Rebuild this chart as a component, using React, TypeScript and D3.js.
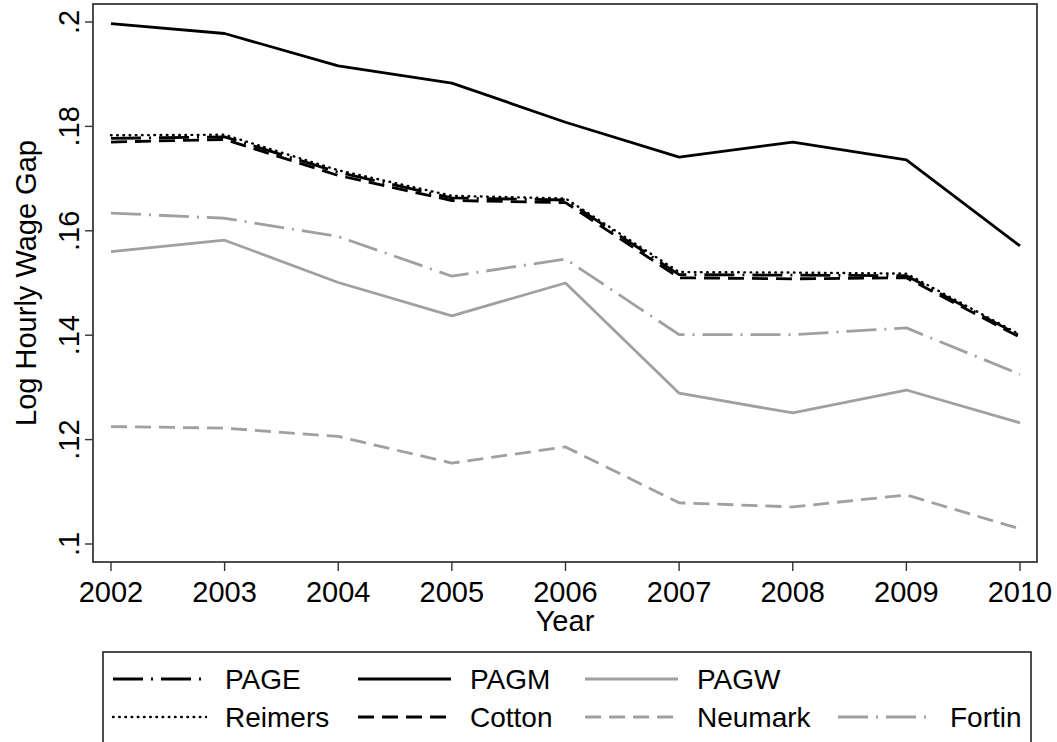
import React from "react";
import * as d3 from "d3";

// ---------- data ----------
const years = [2002, 2003, 2004, 2005, 2006, 2007, 2008, 2009, 2010];
const pageVals = [0.1777, 0.178, 0.1712, 0.1663, 0.1659, 0.1516, 0.1515, 0.1514, 0.1399];
const pagmVals = [0.1997, 0.1978, 0.1916, 0.1883, 0.1808, 0.1741, 0.177, 0.1736, 0.1571];
const pagwVals = [0.156, 0.1582, 0.1501, 0.1437, 0.15, 0.1289, 0.1251, 0.1295, 0.1232];
const reimersVals = [0.1783, 0.1784, 0.1716, 0.1667, 0.1662, 0.1521, 0.152, 0.1518, 0.1401];
const cottonVals = [0.177, 0.1775, 0.1706, 0.1658, 0.1654, 0.151, 0.1508, 0.151, 0.1396];
const neumarkVals = [0.1225, 0.1222, 0.1206, 0.1155, 0.1186, 0.1079, 0.1071, 0.1094, 0.1029];
const fortinVals = [0.1634, 0.1624, 0.1589, 0.1513, 0.1546, 0.1401, 0.1401, 0.1414, 0.1325];
const yTicks = [0.1, 0.12, 0.14, 0.16, 0.18, 0.2];
const yTickLabels = [".1", ".12", ".14", ".16", ".18", ".2"];
const xTickLabels = ["2002", "2003", "2004", "2005", "2006", "2007", "2008", "2009", "2010"];
const seriesNames = ["PAGE", "PAGM", "PAGW", "Reimers", "Cotton", "Neumark", "Fortin"];
const seriesValues = [pageVals, pagmVals, pagwVals, reimersVals, cottonVals, neumarkVals, fortinVals];

// ---------- styles ----------
const BLACK = "#000000";
const GRAY = "#a0a0a0";
const styles: Record<string, { color: string; dash: string; width: number; cap: string }> = {
  PAGE: { color: BLACK, dash: "30,8,2,8", width: 2.8, cap: "butt" },
  PAGM: { color: BLACK, dash: "none", width: 2.8, cap: "butt" },
  PAGW: { color: GRAY, dash: "none", width: 2.8, cap: "butt" },
  Reimers: { color: BLACK, dash: "0.6,5.6", width: 2.4, cap: "round" },
  Cotton: { color: BLACK, dash: "16,8", width: 2.8, cap: "butt" },
  Neumark: { color: GRAY, dash: "16,8", width: 2.8, cap: "butt" },
  Fortin: { color: GRAY, dash: "30,8,2,8", width: 2.8, cap: "butt" },
};

const W = 1057;
const H = 742;
const frame = { left: 93, top: 4, right: 1037, bottom: 562 };
const FONT = "'Liberation Sans', Arial, sans-serif";
const FS = 29;
const LFS = 28;

export default function App() {
  const x = d3.scaleLinear().domain([2002, 2010]).range([111, 1020]);
  const y = d3.scaleLinear().domain([0.1, 0.2]).range([544, 22]);
  const line = d3
    .line<number>()
    .x((_, i) => x(years[i]))
    .y((d) => y(d));

  // legend layout
  const legendBox = { left: 103, top: 652, right: 1031, bottom: 760 };
  const colTextX = [225, 470, 697, 950];
  const rowY = [679, 717];
  const legendOrder = [
    ["PAGE", 0, 0],
    ["PAGM", 1, 0],
    ["PAGW", 2, 0],
    ["Reimers", 0, 1],
    ["Cotton", 1, 1],
    ["Neumark", 2, 1],
    ["Fortin", 3, 1],
  ] as [string, number, number][];

  return (
    <svg
      width={W}
      height={H}
      style={{ position: "absolute", left: 0, top: 0, background: "#fff" }}
      fontFamily={FONT}
    >
      <rect x={0} y={0} width={W} height={H} fill="#fff" />
      {/* plot frame */}
      <rect
        x={frame.left}
        y={frame.top}
        width={frame.right - frame.left}
        height={frame.bottom - frame.top}
        fill="none"
        stroke="#222"
        strokeWidth={1.6}
      />
      {/* y ticks */}
      {yTicks.map((t, i) => (
        <g key={"yt" + i}>
          <line x1={frame.left - 8} x2={frame.left} y1={y(t)} y2={y(t)} stroke="#333" strokeWidth={1.4} />
          <text
            transform={`translate(79,${y(t)}) rotate(-90)`}
            textAnchor="middle"
            fontSize={FS}
            fill="#000"
          >
            {yTickLabels[i]}
          </text>
        </g>
      ))}
      {/* x ticks */}
      {years.map((yr, i) => (
        <g key={"xt" + i}>
          <line x1={x(yr)} x2={x(yr)} y1={frame.bottom} y2={frame.bottom + 9} stroke="#333" strokeWidth={1.4} />
          <text x={x(yr)} y={602} textAnchor="middle" fontSize={FS} fill="#000">
            {xTickLabels[i]}
          </text>
        </g>
      ))}
      <text x={(frame.left + frame.right) / 2} y={631} textAnchor="middle" fontSize={FS} fill="#000">
        Year
      </text>
      <text
        transform={`translate(36,${(frame.top + frame.bottom) / 2}) rotate(-90)`}
        textAnchor="middle"
        fontSize={FS}
        fill="#000"
      >
        Log Hourly Wage Gap
      </text>
      {/* series */}
      {seriesNames.map((name, i) => {
        const s = styles[name];
        return (
          <path
            key={name}
            d={line(seriesValues[i]) || ""}
            fill="none"
            stroke={s.color}
            strokeWidth={s.width}
            strokeDasharray={s.dash}
            strokeLinecap={s.cap as any}
            strokeLinejoin="round"
          />
        );
      })}
      {/* legend */}
      <rect
        x={legendBox.left}
        y={legendBox.top}
        width={legendBox.right - legendBox.left}
        height={legendBox.bottom - legendBox.top}
        fill="#fff"
        stroke="#222"
        strokeWidth={1.6}
      />
      {legendOrder.map(([name, c, r]) => {
        const s = styles[name];
        const tx = colTextX[c];
        const ly = rowY[r];
        return (
          <g key={"lg" + name}>
            <line
              x1={tx - 112}
              x2={tx - 19}
              y1={ly}
              y2={ly}
              stroke={s.color}
              strokeWidth={s.width}
              strokeDasharray={s.dash}
              strokeLinecap={s.cap as any}
            />
            <text x={tx} y={ly + 10} fontSize={LFS} fill="#000">
              {name}
            </text>
          </g>
        );
      })}
    </svg>
  );
}
